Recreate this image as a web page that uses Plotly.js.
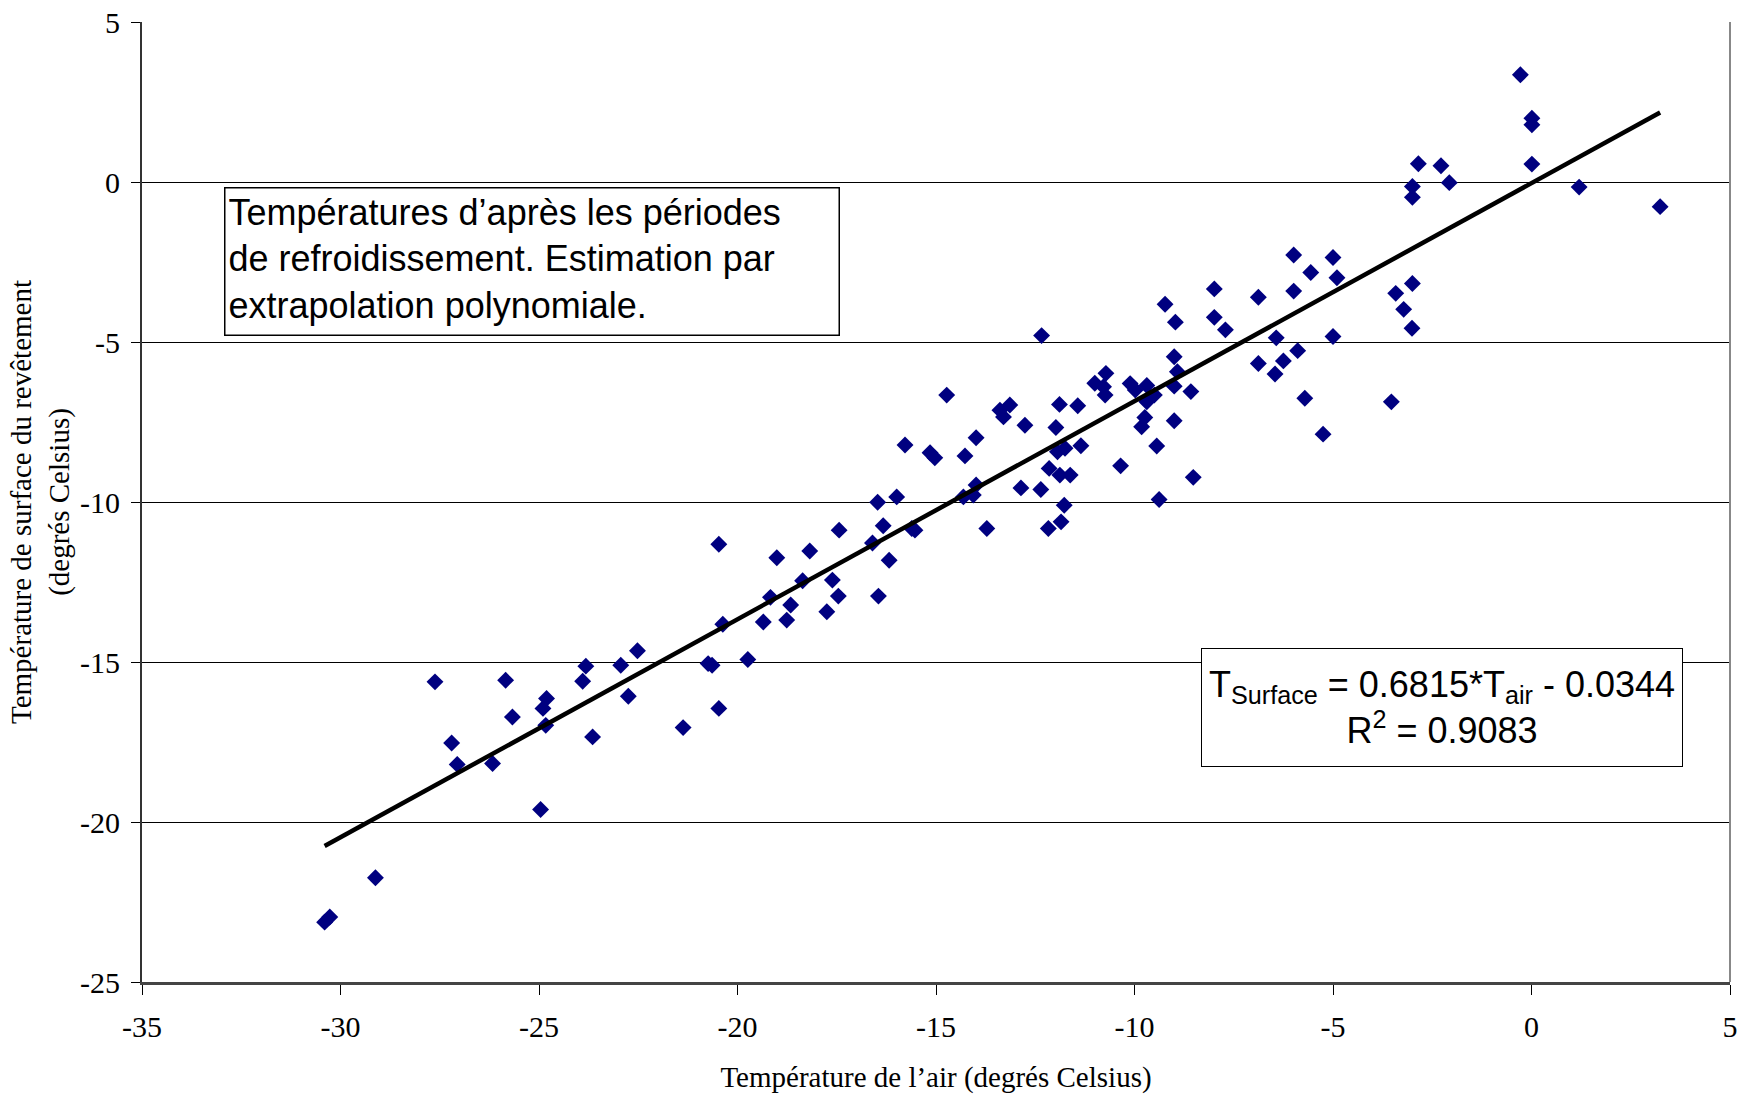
<!DOCTYPE html>
<html>
<head>
<meta charset="utf-8">
<script src="https://cdn.plot.ly/plotly-3.0.1.min.js"></script>
<style>html,body{margin:0;padding:0;background:#fff;}#chart{width:1743px;height:1103px;}</style>
</head>
<body>
<div id="chart"></div>
<script>
// Air temperature (°C) — x values
const airTemp = [
  -30.40, -30.27, -29.12, -27.62, -27.20, -27.06, -26.17, -25.84, -25.67, -24.96,
  -24.90, -24.81, -24.83, -23.90, -23.82, -23.65, -22.94, -22.75, -22.52, -21.37,
  -20.74, -20.64, -20.47, -20.47, -20.37, -19.74, -19.35, -19.17, -19.01, -18.76,
  -18.66, -18.36, -18.18, -17.75, -17.61, -17.46, -17.44, -16.60, -16.47, -16.45,
  -16.33, -16.18, -15.99, -15.78, -15.61, -15.53, -15.15, -15.03, -14.73, -14.31,
  -14.27, -14.06, -13.99, -13.99, -13.72, -13.39, -13.30, -13.14, -12.86, -12.76,
  -12.36, -12.34, -12.17, -12.15, -11.98, -11.94, -11.89, -11.88, -11.85, -11.77,
  -11.75, -11.62, -11.43, -11.35, -11.00, -10.78, -10.74, -10.72, -10.35, -10.11,
  -9.98, -9.82, -9.74, -9.69, -9.69, -9.50, -9.44, -9.38, -9.23, -9.00,
  -9.00, -9.00, -8.97, -8.92, -8.58, -8.52, -7.99, -7.99, -7.71, -6.88,
  -6.88, -6.46, -6.43, -6.25, -5.99, -5.99, -5.89, -5.71, -5.56, -5.25,
  -5.00, -5.00, -4.90, -3.53, -3.42, -3.22, -3.00, -3.01, -3.00, -3.00,
  -2.85, -2.28, -2.07, -0.28, 0.01, 0.01, 0.01, 1.20, 3.24
];
// Pavement surface temperature (°C)
const surfaceTemp = [
  -23.13, -22.97, -21.74, -15.62, -17.53, -18.20, -18.17, -15.57, -16.72, -19.61,
  -16.45, -16.14, -16.98, -15.60, -15.13, -17.34, -15.10, -16.07, -14.65, -17.05,
  -15.05, -15.10, -16.45, -11.32, -13.82, -14.92, -13.75, -12.98, -11.74, -13.69,
  -13.22, -12.46, -11.53, -13.43, -12.44, -12.94, -10.88, -11.28, -10.01, -12.94,
  -10.74, -11.82, -9.84, -8.22, -10.83, -10.88, -8.46, -8.62, -6.66, -9.84,
  -8.56, -9.78, -9.47, -7.99, -10.83, -7.13, -7.34, -6.97, -9.56, -7.60,
  -9.61, -4.80, -10.83, -8.95, -7.67, -8.43, -6.95, -9.16, -10.62, -10.10,
  -8.32, -9.16, -6.99, -8.24, -6.29, -6.40, -6.66, -5.98, -8.87, -6.30,
  -6.50, -7.65, -7.36, -6.36, -6.87, -6.66, -8.25, -9.92, -3.82, -7.46,
  -6.38, -5.46, -4.38, -5.93, -6.55, -9.23, -3.34, -4.23, -4.62, -3.60,
  -5.67, -6.00, -4.87, -5.59, -2.28, -3.41, -5.27, -6.76, -2.83, -7.88,
  -2.36, -4.83, -2.99, -6.87, -3.48, -3.98, -3.17, -4.57, -0.14, -0.48,
  0.57, 0.51, -0.02, 3.35, 1.99, 1.79, 0.56, -0.16, -0.77
];
// Linear regression shown on the chart
const slope = 0.6815;
const intercept = -0.0344;
const rSquared = 0.9083;

const xTicks = [-35, -30, -25, -20, -15, -10, -5, 0, 5];
const yTicks = [-25, -20, -15, -10, -5, 0, 5];

const noteText = "Températures d’après les périodes<br>de refroidissement. Estimation par<br>extrapolation polynomiale.";
const eqText = "T<sub>Surface</sub> = " + slope.toFixed(4) + "*T<sub>air</sub> - " + Math.abs(intercept).toFixed(4) +
               "<br>R<sup>2</sup> = " + rSquared.toFixed(4);

const xMin = Math.min(...airTemp), xMax = Math.max(...airTemp);
const trendX = [xMin, xMax];
const trendY = trendX.map(v => slope * v + intercept);

const serif = "Liberation Serif, Times New Roman, serif";
const sans = "Liberation Sans, Arial, sans-serif";

const data = [
  {
    type: 'scatter', mode: 'markers', x: airTemp, y: surfaceTemp,
    marker: {symbol: 'diamond', size: 13, color: '#000080', line: {width: 0}},
    showlegend: false, hoverinfo: 'x+y'
  },
  {
    type: 'scatter', mode: 'lines', x: trendX, y: trendY,
    line: {color: '#000000', width: 4.5},
    showlegend: false, hoverinfo: 'skip'
  }
];

const layout = {
  width: 1743, height: 1103,
  paper_bgcolor: '#ffffff', plot_bgcolor: '#ffffff',
  margin: {l: 142, r: 13, t: 22, b: 121, pad: 0},
  showlegend: false,
  xaxis: {
    range: [-35, 5], tickvals: xTicks, ticktext: xTicks.map(String),
    showgrid: false, zeroline: false,
    showline: true, linecolor: '#444444', linewidth: 3,
    ticks: 'outside', ticklen: 10, tickwidth: 1, tickcolor: '#000000',
    ticklabelstandoff: 6,
    tickfont: {family: serif, size: 30, color: '#000000'},
    title: {text: 'Température de l’air (degrés Celsius)', font: {family: serif, size: 29, color: '#000000'}, standoff: 25},
    automargin: false
  },
  yaxis: {
    range: [-25, 5], tickvals: yTicks, ticktext: yTicks.map(String),
    showgrid: true, gridcolor: '#000000', gridwidth: 1,
    zeroline: false,
    showline: true, linecolor: '#333333', linewidth: 2,
    ticks: 'outside', ticklen: 9, tickwidth: 1, tickcolor: '#000000',
    ticklabelstandoff: 5,
    tickfont: {family: serif, size: 30, color: '#000000'},
    title: {text: 'Température de surface du revêtement<br>(degrés Celsius)', font: {family: serif, size: 29, color: '#000000'}, standoff: 2},
    automargin: false
  },
  shapes: [
    {type: 'line', xref: 'paper', yref: 'paper', x0: 1, x1: 1, y0: 0, y1: 1,
     line: {color: '#888888', width: 2}}
  ],
  annotations: [
    {
      xref: 'paper', yref: 'paper', x: 0.0518, y: 0.8286, xanchor: 'left', yanchor: 'top',
      text: noteText, showarrow: false, align: 'left', valign: 'top',
      width: 607, height: 140, borderpad: 3,
      bordercolor: '#000000', borderwidth: 1.5, bgcolor: '#ffffff',
      font: {family: sans, size: 36, color: '#000000'}
    },
    {
      xref: 'paper', yref: 'paper', x: 0.6667, y: 0.3477, xanchor: 'left', yanchor: 'top',
      text: eqText, showarrow: false, align: 'center', valign: 'middle',
      width: 472, height: 109, borderpad: 4,
      bordercolor: '#000000', borderwidth: 1, bgcolor: '#ffffff',
      font: {family: sans, size: 36, color: '#000000'}
    }
  ]
};

Plotly.newPlot('chart', data, layout, {displayModeBar: false, staticPlot: true});
</script>
</body>
</html>
